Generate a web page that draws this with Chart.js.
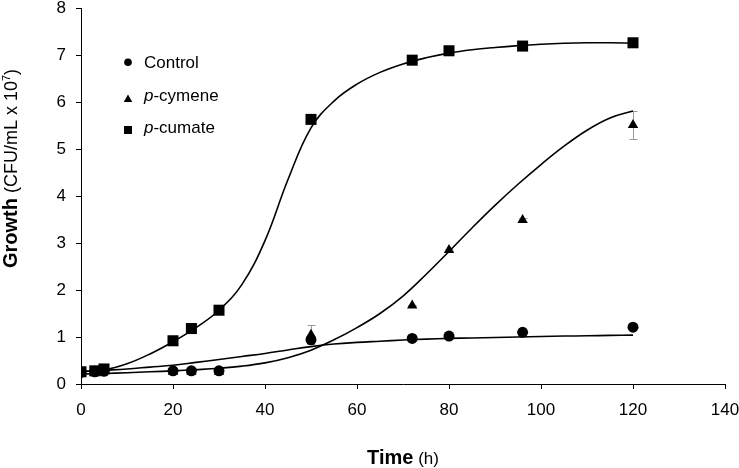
<!DOCTYPE html>
<html>
<head>
<meta charset="utf-8">
<script src="https://cdn.jsdelivr.net/npm/chart.js@4"></script>
<style>
html,body{margin:0;padding:0;background:#fff;}
#wrap{width:739px;height:468px;position:relative;}
</style>
</head>
<body>
<div id="wrap"><canvas id="c"></canvas></div>
<script>
// ---- data ----
const sampleTimes = [0, 3, 5, 20, 24, 30, 50, 72, 80, 96, 120];
const controlValues = [0.25, 0.26, 0.27, 0.28, 0.28, 0.28, 0.94, 0.97, 1.02, 1.10, 1.21];
const cymeneValues  = [0.26, 0.27, 0.29, 0.26, 0.26, 0.26, 1.05, 1.67, 2.85, 3.49, 5.51];
const cymeneErrors  = [0, 0, 0, 0, 0, 0, 0.20, 0.02, 0.02, 0.04, 0.30];
const cumateValues  = [0.26, 0.28, 0.32, 0.92, 1.18, 1.57, 5.63, 6.89, 7.09, 7.19, 7.26];

// fitted trend curves, every 5 h
const curveTimes = [0, 5, 10, 15, 20, 25, 30, 35, 40, 45, 50, 55, 60, 65, 70, 75, 80, 85, 90, 95, 100, 105, 110, 115, 120];
const controlCurve = [0.26, 0.29, 0.32, 0.36, 0.40, 0.46, 0.52, 0.585, 0.65, 0.725, 0.795, 0.85, 0.885, 0.91, 0.935, 0.955, 0.97, 0.98, 0.99, 1.0, 1.01, 1.02, 1.025, 1.035, 1.04];
const cymeneCurve  = [0.21, 0.225, 0.24, 0.26, 0.28, 0.305, 0.335, 0.38, 0.45, 0.56, 0.72, 0.94, 1.20, 1.50, 1.87, 2.33, 2.82, 3.32, 3.80, 4.25, 4.67, 5.06, 5.40, 5.66, 5.81];
const cumateCurve  = [0.27, 0.30, 0.43, 0.64, 0.90, 1.20, 1.57, 2.12, 3.05, 4.35, 5.45, 6.02, 6.38, 6.63, 6.81, 6.94, 7.04, 7.11, 7.16, 7.20, 7.23, 7.25, 7.26, 7.26, 7.25];

const xTicks = [0, 20, 40, 60, 80, 100, 120, 140];
const yTicks = [0, 1, 2, 3, 4, 5, 6, 7, 8];

const legendItems = [
  {italic: '', rest: 'Control', marker: 'circle'},
  {italic: 'p', rest: '-cymene', marker: 'triangle'},
  {italic: 'p', rest: '-cumate', marker: 'rect'}
];
const xTitleBold = 'Time', xTitleRest = ' (h)';
const yTitleBold = 'Growth', yTitleRest = ' (CFU/mL x 10', yTitleSup = '7', yTitleEnd = ')';

const FONT = '"Liberation Sans", Arial, Helvetica, sans-serif';

function pts(t, v) { return t.map((x, i) => ({x: x, y: v[i]})); }

const markerBase = {showLine: false, borderWidth: 0, pointHoverRadius: 0};
const curveBase = {showLine: true, pointRadius: 0, borderColor: '#000', borderWidth: 1.6,
  tension: 0.4, fill: false};

const extras = {
  id: 'extras',
  beforeDatasetsDraw(chart) {
    const ctx = chart.ctx, xs = chart.scales.x, ys = chart.scales.y;
    ctx.save();
    ctx.strokeStyle = '#9a9a9a';
    ctx.lineWidth = 1;
    sampleTimes.forEach((t, i) => {
      const e = cymeneErrors[i];
      if (!e) return;
      const px = Math.round(xs.getPixelForValue(t)) + 0.5;
      const top = ys.getPixelForValue(cymeneValues[i] + e);
      const bot = ys.getPixelForValue(cymeneValues[i] - e);
      ctx.beginPath();
      ctx.moveTo(px, top); ctx.lineTo(px, bot);
      ctx.moveTo(px - 4, Math.round(top) + 0.5); ctx.lineTo(px + 4, Math.round(top) + 0.5);
      ctx.moveTo(px - 4, Math.round(bot) + 0.5); ctx.lineTo(px + 4, Math.round(bot) + 0.5);
      ctx.stroke();
    });
    ctx.restore();
  },
  afterDraw(chart) {
    const ctx = chart.ctx;
    ctx.save();
    ctx.fillStyle = '#000';
    ctx.textBaseline = 'alphabetic';
    // x title
    ctx.font = 'bold 20px ' + FONT;
    const wb = ctx.measureText(xTitleBold).width;
    ctx.font = '17px ' + FONT;
    const wr = ctx.measureText(xTitleRest).width;
    const area = chart.chartArea;
    let sx = (area.left + area.right) / 2 - (wb + wr) / 2;
    ctx.font = 'bold 20px ' + FONT;
    ctx.fillText(xTitleBold, sx, 464);
    ctx.font = '17px ' + FONT;
    ctx.fillText(xTitleRest, sx + wb, 464);

    // y title (rotated)
    ctx.font = 'bold 20px ' + FONT;
    const g = ctx.measureText(yTitleBold).width;
    ctx.font = '18px ' + FONT;
    const r1 = ctx.measureText(yTitleRest).width;
    const r3 = ctx.measureText(yTitleEnd).width;
    ctx.font = '11px ' + FONT;
    const r2 = ctx.measureText(yTitleSup).width;
    const total = g + r1 + r2 + r3;
    ctx.translate(17, 168.5 + total / 2);
    ctx.rotate(-Math.PI / 2);
    let cx = 0;
    ctx.font = 'bold 20px ' + FONT; ctx.fillText(yTitleBold, cx, 0); cx += g;
    ctx.font = '18px ' + FONT; ctx.fillText(yTitleRest, cx, 0); cx += r1;
    ctx.font = '11px ' + FONT; ctx.fillText(yTitleSup, cx, -7); cx += r2;
    ctx.font = '18px ' + FONT; ctx.fillText(yTitleEnd, cx, 0);
    ctx.restore();

    // legend
    ctx.save();
    ctx.fillStyle = '#000';
    const mx = 128, tx = 144;
    const baselines = [68.3, 100.7, 133.2];
    const centers = [62.3, 98.6, 130];
    legendItems.forEach((it, i) => {
      const cy = centers[i];
      ctx.beginPath();
      if (it.marker === 'circle') {
        ctx.arc(mx, cy, 3.8, 0, Math.PI * 2);
      } else if (it.marker === 'triangle') {
        ctx.moveTo(mx, cy - 4); ctx.lineTo(mx + 4.3, cy + 3.3); ctx.lineTo(mx - 4.3, cy + 3.3); ctx.closePath();
      } else {
        ctx.rect(mx - 4, cy - 4, 8, 8);
      }
      ctx.fill();
      let x = tx;
      if (it.italic) {
        ctx.font = 'italic 17px ' + FONT;
        ctx.fillText(it.italic, x, baselines[i]);
        x += ctx.measureText(it.italic).width;
      }
      ctx.font = '17px ' + FONT;
      ctx.fillText(it.rest, x, baselines[i]);
    });
    ctx.restore();
  }
};

new Chart(document.getElementById('c'), {
  type: 'scatter',
  data: {
    datasets: [
      Object.assign({label: 'Control', data: pts(sampleTimes, controlValues), pointStyle: 'circle', pointRadius: 5.5, backgroundColor: '#000'}, markerBase),
      Object.assign({label: 'p-cymene', data: pts(sampleTimes, cymeneValues), pointStyle: 'triangle', pointRadius: 6, backgroundColor: '#000'}, markerBase),
      Object.assign({label: 'p-cumate', data: pts(sampleTimes, cumateValues), pointStyle: 'rect', pointRadius: 7.8, backgroundColor: '#000'}, markerBase),
      Object.assign({label: 'Control fit', data: pts(curveTimes, controlCurve)}, curveBase),
      Object.assign({label: 'p-cymene fit', data: pts(curveTimes, cymeneCurve)}, curveBase),
      Object.assign({label: 'p-cumate fit', data: pts(curveTimes, cumateCurve)}, curveBase)
    ]
  },
  options: {
    responsive: true,
    maintainAspectRatio: false,
    animation: false,
    events: [],
    layout: {padding: 0},
    plugins: {legend: {display: false}, tooltip: {enabled: false}},
    scales: {
      x: {
        type: 'linear', min: 0, max: 140,
        afterBuildTicks: s => { s.ticks = xTicks.map(v => ({value: v})); },
        ticks: {font: {family: FONT, size: 17}, color: '#000', padding: 11, maxRotation: 0},
        grid: {drawOnChartArea: false, drawTicks: true, tickLength: 5, color: '#000', lineWidth: 1},
        border: {display: true, color: '#000', width: 1},
        afterFit: s => { s.height = 84; s.paddingLeft = 0; s.paddingRight = 14; }
      },
      y: {
        type: 'linear', min: 0, max: 8,
        afterBuildTicks: s => { s.ticks = yTicks.map(v => ({value: v})); },
        ticks: {font: {family: FONT, size: 17}, color: '#000', padding: 10},
        grid: {drawOnChartArea: false, drawTicks: true, tickLength: 5, color: '#000', lineWidth: 1},
        border: {display: true, color: '#000', width: 1},
        afterFit: s => { s.width = 81; s.paddingTop = 8; s.paddingBottom = 0; }
      }
    }
  },
  plugins: [extras]
});
</script>
</body>
</html>
